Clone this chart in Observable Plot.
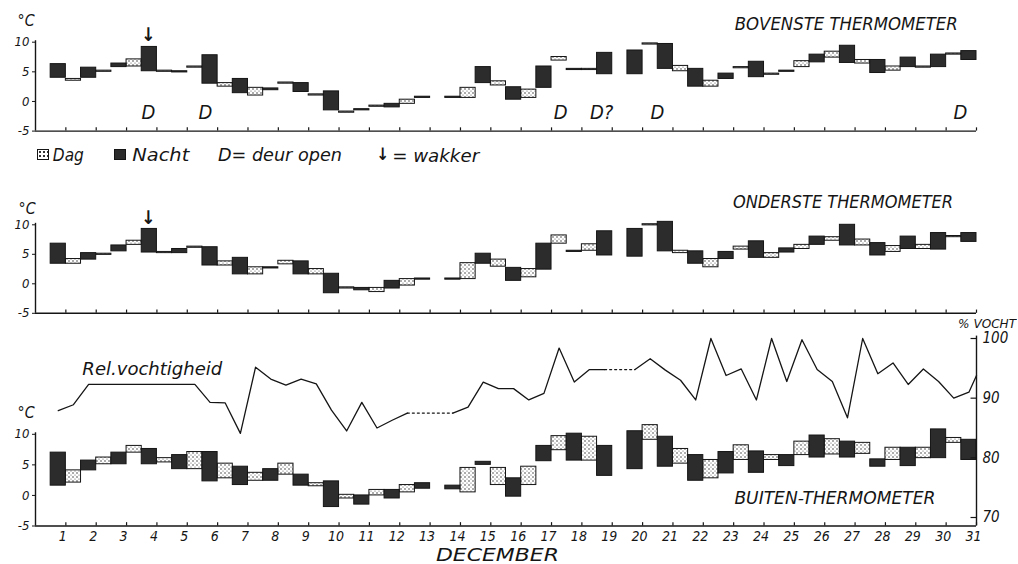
<!DOCTYPE html>
<html>
<head>
<meta charset="utf-8">
<script src="https://cdn.jsdelivr.net/npm/d3@7"></script>
<script src="https://cdn.jsdelivr.net/npm/@observablehq/plot@0.6"></script>
<style>
  html, body { margin: 0; padding: 0; background: #fff; }
  #wrap { position: relative; width: 1018px; height: 564px; overflow: hidden; background: #fff;
          font-family: "Liberation Sans Narrow", "DejaVu Sans Condensed", "DejaVu Sans", sans-serif;
          font-style: italic; color: #151515; }
  #wrap svg.layer { position: absolute; left: 0; top: 0; }
  .t { position: absolute; white-space: nowrap; line-height: 1; transform-origin: 50% 50%; }
  .box { position: absolute; width: 12px; height: 11px; border: 1px solid #151515; box-sizing: border-box; }
</style>
</head>
<body>
<svg width="0" height="0" style="position:absolute">
  <defs>
    <pattern id="dots" width="4" height="4" patternUnits="userSpaceOnUse">
      <rect width="4" height="4" fill="#fff"/>
      <circle cx="1" cy="1" r="0.75" fill="#333"/>
      <circle cx="3" cy="3" r="0.6" fill="#555"/>
    </pattern>
  </defs>
</svg>
<div id="wrap"></div>
<script>
// ---------- DATA ----------
const days = d3.range(1, 32); // 1 .. 31 December

// Bovenste thermometer (top)
const topDagHi   = [null,3.8,5.2,7.1,5.2,5.9,3.1,2.3,3.2,1.2,-1.7,-0.7,0.3,null,2.3,3.4,2.0,7.5,5.5,null,9.8,6.0,3.5,5.8,4.7,6.8,8.4,7.0,5.9,5.9,8.1];
const topDagLo   = [null,3.5,5.0,5.9,5.0,5.7,2.5,1.0,3.0,1.0,-1.9,-0.9,-0.4,null,0.6,2.7,0.6,6.9,5.3,null,9.6,5.1,2.5,5.6,4.5,5.8,7.4,6.4,5.2,5.7,7.9];
const topNachtHi = [6.3,5.7,6.4,9.2,5.1,7.8,3.8,2.2,3.1,1.7,-1.3,-0.4,0.8,0.8,5.8,2.4,5.9,5.5,8.2,8.6,9.7,5.5,4.7,6.7,5.2,7.9,9.4,7.0,7.4,7.9,8.5];
const topNachtLo = [4.0,4.0,5.8,5.1,4.9,3.0,1.4,1.9,1.6,-1.5,-1.5,-1.0,0.6,0.6,3.1,0.3,2.3,5.3,4.6,4.6,5.5,2.5,3.8,4.1,5.0,6.6,6.5,4.8,5.8,5.8,7.0];

// Onderste thermometer (middle)
const midDagHi   = [null,4.2,5.1,7.3,5.4,6.3,3.8,2.8,3.9,2.5,-0.6,-0.7,0.8,null,3.5,4.1,2.5,8.2,6.7,null,10.1,5.6,4.2,6.3,5.2,6.6,7.9,7.5,6.4,6.6,8.1];
const midDagLo   = [null,3.4,4.9,6.6,5.2,6.1,3.1,1.6,3.3,1.6,-0.8,-1.4,-0.3,null,0.8,2.9,1.1,6.8,5.6,null,9.9,5.2,2.8,5.8,4.4,5.9,7.3,6.5,5.4,5.9,7.9];
const midNachtHi = [6.8,5.2,6.5,9.3,5.9,6.2,4.4,2.8,3.8,1.7,-0.7,0.5,0.9,0.9,5.1,2.7,6.8,5.6,8.9,9.3,10.5,5.5,5.4,7.2,6.0,8.0,10.0,6.9,8.0,8.6,8.6];
const midNachtLo = [3.4,4.1,5.5,5.3,5.2,3.1,1.6,2.6,1.6,-1.6,-1.1,-0.8,0.7,0.7,3.4,0.5,2.4,5.4,4.8,4.6,5.5,3.4,4.2,4.4,5.3,6.6,6.5,4.8,5.9,5.8,7.1];

// Buiten-thermometer (bottom)
const botDagHi   = [null,4.1,6.2,8.1,6.1,7.1,5.2,3.7,5.2,2.0,0.1,0.9,1.7,null,4.5,4.5,4.7,9.7,9.6,null,11.5,7.6,5.8,8.2,6.6,8.8,9.2,8.6,7.8,7.8,9.4];
const botDagLo   = [null,2.1,5.1,7.0,5.4,4.3,2.8,2.4,3.4,1.5,-0.5,0.0,0.5,null,0.5,1.7,1.7,7.4,5.7,null,9.1,5.2,2.8,5.8,5.8,6.6,6.7,6.8,5.8,6.1,8.6];
const botNachtHi = [7.0,5.7,7.0,7.6,6.6,7.1,4.7,4.3,3.4,2.3,0.0,0.9,2.0,1.6,5.5,2.8,8.1,10.1,8.1,10.5,9.6,6.6,7.1,7.2,6.6,9.8,8.8,5.9,7.8,10.8,9.1];
const botNachtLo = [1.6,4.1,5.1,5.1,4.3,2.3,1.7,2.4,1.6,-1.9,-1.5,-0.5,1.1,1.0,5.0,-0.2,5.6,5.7,3.2,4.3,4.7,2.4,3.6,3.7,4.8,6.2,6.2,4.7,4.8,6.1,5.8];

// Relatieve vochtigheid (%), per half day (slot 1 .. 61, then the end of the 31st)
const humSlot = d3.range(1, 62).concat([61.5]);
const humVal = [87.9,88.9,92.3,92.3,92.3,92.3,92.3,92.3,92.3,92.3,
                89.3,89.2,84.1,95.2,93.2,92.2,93.2,92.4,88.0,84.5,
                89.3,85.0,86.3,87.5,null,null,87.5,88.5,92.7,91.6,
                91.6,89.7,90.8,98.4,92.7,94.8,94.8,null,94.8,96.6,
                94.7,93.0,89.7,100,93.8,94.9,89.7,100,92.8,99.8,
                94.8,92.8,86.7,100,94.1,95.9,92.3,94.9,92.8,90.0,
                91.0,93.8];

// Annotations
const tempTicks = [-5, 0, 5, 10];
const humTicks = [70, 80, 90, 100];
const doorDay  = [3.72, 5.6, 17.3, 18.65, 20.49, 30.47];
const doorText = ["D", "D", "D", "D?", "D", "D"];
const wakkerDay = [3.72];

// ---------- LAYOUT ----------
const W = 1018, H = 564, X0 = 35, X1 = 976;
const FONT = '"Liberation Sans Narrow","DejaVu Sans Condensed","DejaVu Sans",sans-serif';
const INK = "#151515";
const wrap = document.getElementById("wrap");

function rowsOf(hi, lo) {
  return days.map((d, i) => ({d, hi: hi[i], lo: lo[i]})).filter(r => r.hi != null);
}

function tempPanel({dagHi, dagLo, nachtHi, nachtLo, yTop, yBottom, xLabels, extra}) {
  const dag = rowsOf(dagHi, dagLo);
  const nacht = rowsOf(nachtHi, nachtLo);
  const marks = [
    Plot.rect(dag, {x1: r => r.d - 1, x2: r => r.d - 0.5, y1: "lo", y2: "hi",
                    fill: "url(#dots)", stroke: INK, strokeWidth: 1}),
    Plot.rect(nacht, {x1: r => r.d - 0.5, x2: "d", y1: "lo", y2: "hi",
                      fill: "#2c2c2c", stroke: INK, strokeWidth: 1}),
    Plot.ruleY([-5], {stroke: INK, strokeWidth: 1.4}),
    Plot.ruleX([0], {y1: -5, y2: 10.25, stroke: INK, strokeWidth: 1.4}),
    Plot.ruleX(days, {y1: -5, y2: -4.45, stroke: INK, strokeWidth: 1.2}),
    Plot.axisY({ticks: tempTicks, tickSize: 3, tickPadding: 3, tickFormat: d => String(d),
                fontSize: 13, fontStyle: "italic", label: null})
  ];
  if (xLabels) {
    marks.push(Plot.axisX({ticks: days, tickSize: 0, tickPadding: 5, dx: -3,
                           tickFormat: d => String(d), fontSize: 14, fontStyle: "italic", label: null}));
  }
  const svg = Plot.plot({
    width: W, height: H,
    marginLeft: X0, marginRight: W - X1, marginTop: yTop, marginBottom: H - yBottom,
    x: xLabels ? {domain: [0, 31]} : {domain: [0, 31], axis: null},
    y: {domain: [-5, 10]},
    style: {background: "transparent", fontFamily: FONT, fontStyle: "italic", color: INK, overflow: "visible"},
    marks: marks.concat(extra || [])
  });
  svg.classList.add("layer");
  wrap.appendChild(svg);
}

const doorMarks = [
  Plot.text(doorDay, {x: d => d, y: -1.8, text: (d, i) => doorText[i], fontSize: 20,
                      fontStyle: "italic", fill: INK, textAnchor: "middle"})
];
const wakkerMark = y => Plot.text(wakkerDay, {x: d => d, y, text: () => "↓", fontSize: 19,
                                                fontWeight: "bold", fill: INK});

// top panel
tempPanel({dagHi: topDagHi, dagLo: topDagLo, nachtHi: topNachtHi, nachtLo: topNachtLo,
           yTop: 41.7, yBottom: 130.6, xLabels: false,
           extra: doorMarks.concat([wakkerMark(11.3)])});
// middle panel
tempPanel({dagHi: midDagHi, dagLo: midDagLo, nachtHi: midNachtHi, nachtLo: midNachtLo,
           yTop: 224.3, yBottom: 312.8, xLabels: false,
           extra: [wakkerMark(11.1)]});
// bottom panel
tempPanel({dagHi: botDagHi, dagLo: botDagLo, nachtHi: botNachtHi, nachtLo: botNachtLo,
           yTop: 433.8, yBottom: 525.5, xLabels: true, extra: []});

// humidity layer
{
  const hum = humSlot.map((s, i) => ({x: (s + 0.5) / 2, h: humVal[i] == null ? NaN : humVal[i]}));
  const bridges = [];
  for (let i = 0; i < hum.length - 1; i++) {
    if (!isNaN(hum[i].h) && isNaN(hum[i + 1].h)) {
      let j = i + 1;
      while (j < hum.length && isNaN(hum[j].h)) j++;
      if (j < hum.length) bridges.push({g: i, x: hum[i].x, h: hum[i].h}, {g: i, x: hum[j].x, h: hum[j].h});
    }
  }
  const svg = Plot.plot({
    width: W, height: H,
    marginLeft: X0, marginRight: W - X1, marginTop: 338, marginBottom: H - 517,
    x: {domain: [0, 31], axis: null},
    y: {domain: [70, 100]},
    style: {background: "transparent", fontFamily: FONT, fontStyle: "italic", color: INK, overflow: "visible"},
    marks: [
      Plot.line(hum, {x: "x", y: "h", stroke: INK, strokeWidth: 1.3}),
      Plot.line(bridges, {x: "x", y: "h", z: "g", stroke: INK, strokeWidth: 1.2, strokeDasharray: "2,3"}),
      Plot.ruleX([31], {y1: 68.6, y2: 100.4, stroke: INK, strokeWidth: 1.4}),
      Plot.ruleY(humTicks, {x1: 30.82, x2: 31, stroke: INK, strokeWidth: 1.2}),
      Plot.axisY({anchor: "right", ticks: humTicks, tickSize: 0, tickPadding: 6,
                  tickFormat: d => String(d), fontSize: 15, fontStyle: "italic", label: null})
    ]
  });
  svg.classList.add("layer");
  wrap.appendChild(svg);
}

// ---------- TEXT ----------
function label(txt, cx, cy, size, targetW, extra) {
  const el = document.createElement("div");
  el.className = "t";
  el.textContent = txt;
  Object.assign(el.style, {left: cx + "px", top: cy + "px", fontSize: size + "px"}, extra || {});
  wrap.appendChild(el);
  const w = el.getBoundingClientRect().width;
  const s = targetW ? targetW / w : 1;
  el.style.left = (cx - w / 2) + "px";
  el.style.top = (cy - el.getBoundingClientRect().height / 2) + "px";
  el.style.transform = `scaleX(${s})`;
}

label("°C", 26, 21, 15, 17);
label("°C", 27, 209, 15, 17);
label("°C", 26, 413, 15, 17);
label("BOVENSTE THERMOMETER", 846, 24, 17, 223);
label("ONDERSTE THERMOMETER", 843, 202, 17, 220);
label("BUITEN-THERMOMETER", 835, 498, 17, 201);
label("Dag", 68, 155, 18, 31);
label("Nacht", 161, 155, 18, 57);
label("D= deur open", 280, 155, 18, 124);
label("↓", 383, 154, 17, 0, {fontWeight: "bold", fontStyle: "normal"});
label("= wakker", 436, 156, 18, 87);
label("Rel.vochtigheid", 152, 369, 17, 140);
label("% VOCHT", 987, 323, 13, 58);
label("DECEMBER", 497, 555, 18, 123);

// legend boxes
{
  const b1 = document.createElement("div");
  b1.className = "box";
  Object.assign(b1.style, {left: "37px", top: "149px",
    background: "radial-gradient(circle, #333 0.8px, transparent 1.1px) 0 0 / 4px 4px, #fff"});
  wrap.appendChild(b1);
  const b2 = document.createElement("div");
  b2.className = "box";
  Object.assign(b2.style, {left: "114px", top: "149px", background: "#2c2c2c"});
  wrap.appendChild(b2);
}
</script>
</body>
</html>
